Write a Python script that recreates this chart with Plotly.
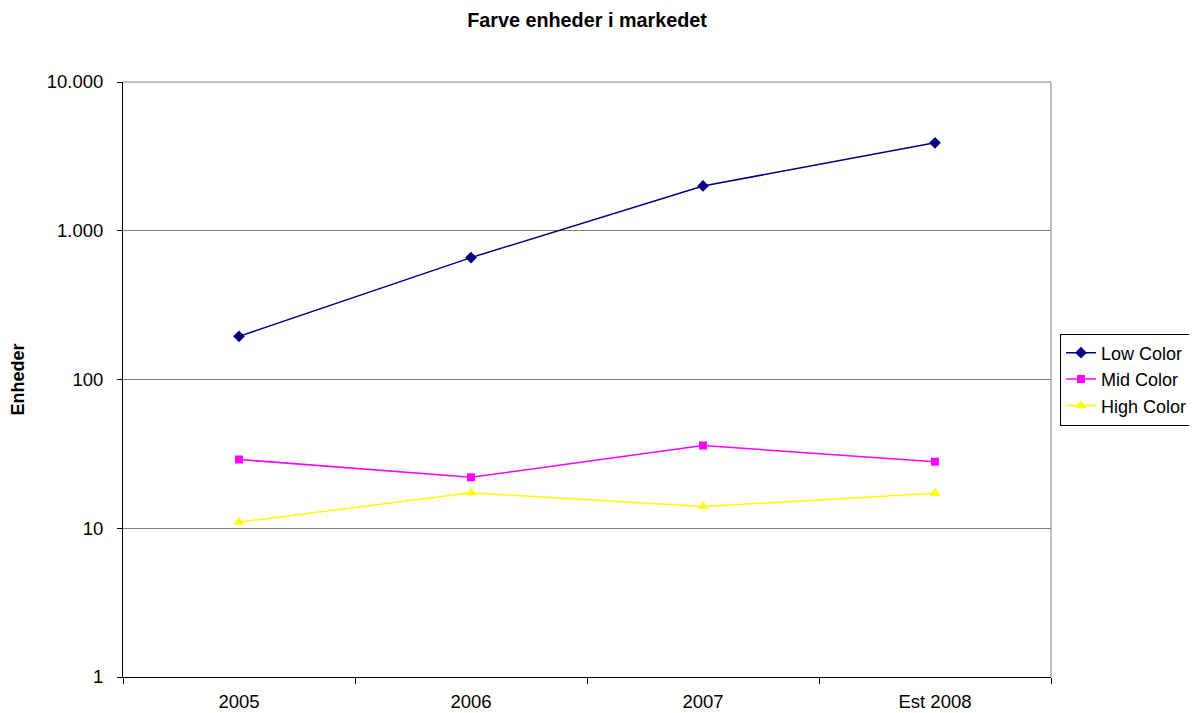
import plotly.graph_objects as go

categories = ["2005", "2006", "2007", "Est 2008"]
low_color = [195, 660, 2000, 3900]
mid_color = [29, 22, 36, 28]
high_color = [11, 17.3, 14, 17.2]
y_tickvals = [1, 10, 100, 1000, 10000]
y_ticktext = ["1", "10", "100", "1.000", "10.000"]

fig = go.Figure()
fig.add_trace(go.Scatter(x=categories, y=low_color, name="Low Color", mode="lines+markers",
                         line=dict(color="#000080", width=1.5),
                         marker=dict(symbol="diamond", size=9, color="#000080")))
fig.add_trace(go.Scatter(x=categories, y=mid_color, name="Mid Color", mode="lines+markers",
                         line=dict(color="#FF00FF", width=1.5),
                         marker=dict(symbol="square", size=8, color="#FF00FF")))
fig.add_trace(go.Scatter(x=categories, y=high_color, name="High Color", mode="lines+markers",
                         line=dict(color="#FFFF00", width=1.5),
                         marker=dict(symbol="triangle-up", size=10, color="#FFFF00")))

fig.update_layout(
    width=1197, height=713,
    paper_bgcolor="white", plot_bgcolor="white",
    margin=dict(l=115, r=154, t=74, b=44, autoexpand=False),
    font=dict(family="Liberation Sans, Arial", size=18.5, color="black"),
    title=dict(text="<b>Farve enheder i markedet</b>", x=0.5, xanchor="center",
               xref="paper", y=0.983, yanchor="middle", font=dict(size=19.8)),
    showlegend=True,
    legend=dict(x=1.0097, xanchor="left", y=0.5, yanchor="middle",
                bordercolor="black", borderwidth=1, bgcolor="white",
                font=dict(size=18), tracegroupgap=0, itemwidth=30),
    xaxis=dict(type="category", range=[-0.5, 3.5], showgrid=False, automargin=False,
               showline=True, linecolor="black", linewidth=1,
               ticks="outside", tickson="boundaries", ticklen=6, tickcolor="black",
               ticklabelstandoff=8,
               mirror=False, zeroline=False, tickfont=dict(size=18.5)),
    yaxis=dict(type="log", range=[0, 4], tickvals=y_tickvals, ticktext=y_ticktext,
               showgrid=True, gridcolor="#808080", gridwidth=1, automargin=False,
               showline=True, linecolor="black", linewidth=1,
               ticks="outside", ticklen=5, tickcolor="black",
               ticklabelstandoff=10,
               title=dict(text="<b>Enheder</b>", font=dict(size=18), standoff=18),
               tickfont=dict(size=18.5), zeroline=False),
)
fig.add_shape(type="line", xref="paper", yref="paper", x0=1, x1=1, y0=0, y1=1,
              line=dict(color="#808080", width=1))
fig.add_shape(type="line", xref="paper", yref="paper", x0=0, x1=1, y0=1, y1=1,
              line=dict(color="#808080", width=1))

fig.write_html("out.html")
